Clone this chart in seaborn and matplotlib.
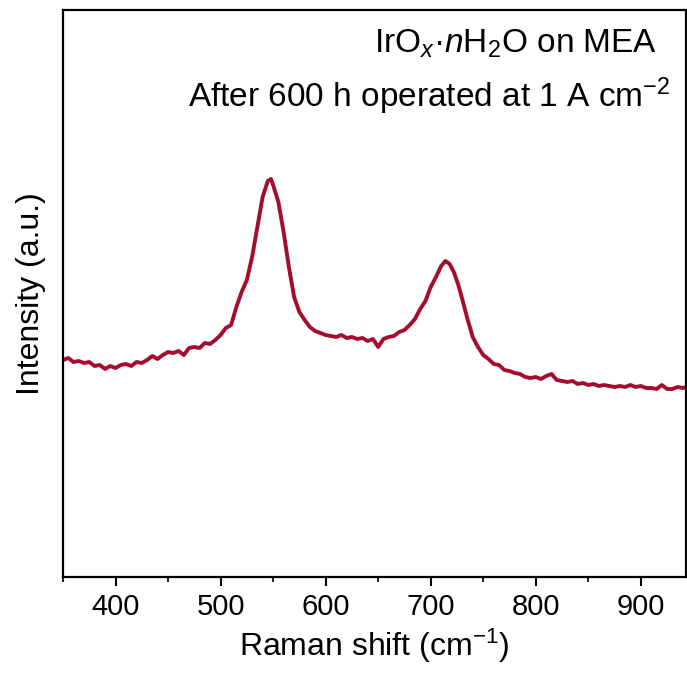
import matplotlib
matplotlib.use("Agg")
import matplotlib.pyplot as plt
import seaborn as sns
import pandas as pd
from matplotlib.ticker import MultipleLocator

sns.set_theme(style="ticks")
plt.rcParams['font.family'] = ['Liberation Sans', 'DejaVu Sans']
plt.rcParams['mathtext.fontset'] = 'custom'
plt.rcParams['mathtext.rm'] = 'Liberation Sans'
plt.rcParams['mathtext.it'] = 'Liberation Sans:italic'

raman_shift = [350, 355, 360, 365, 370, 375, 380, 385, 390, 395, 400, 405, 410, 415, 420,
               425, 430, 435, 440, 445, 450, 455, 460, 465, 470, 475, 480, 485, 490, 495,
               500, 505, 510, 515, 520, 525, 530, 535, 540, 545, 548, 550, 555, 560, 565,
               570, 575, 580, 585, 590, 595, 600, 605, 610, 615, 620, 625, 630, 635, 640,
               645, 650, 655, 660, 665, 670, 675, 680, 685, 690, 695, 700, 705, 710, 714,
               718, 722, 726, 730, 735, 740, 745, 750, 755, 760, 765, 770, 775, 780, 785,
               790, 795, 800, 805, 810, 815, 820, 825, 830, 835, 840, 845, 850, 855, 860,
               865, 870, 875, 880, 885, 890, 895, 900, 905, 910, 915, 920, 925, 930, 935,
               940, 943]
intensity = [217, 219, 215, 216, 214, 215, 211, 212, 208, 211, 209, 212, 213, 211, 215,
             214, 217, 221, 218, 222, 225, 224, 226, 222, 229, 230, 229, 234, 233, 237,
             242, 249, 252, 270, 285, 297, 320, 350, 380, 396, 398, 392, 375, 345, 310,
             280, 265, 257, 250, 246, 244, 242, 241, 240, 242, 239, 240, 238, 239, 236,
             238, 230, 238, 240, 241, 245, 247, 252, 258, 268, 276, 290, 300, 311, 316,
             313, 305, 293, 278, 258, 240, 230, 222, 218, 213, 212, 207, 206, 204, 203,
             200, 199, 200, 198, 201, 203, 197, 196, 195, 196, 193, 194, 192, 193, 191,
             192, 191, 190, 191, 190, 192, 190, 191, 189, 189, 188, 192, 188, 188, 190,
             189, 190]

df = pd.DataFrame({"shift": raman_shift, "intensity": intensity})

fig = plt.figure(figsize=(6.87, 6.88), dpi=100)
ax = fig.add_axes([63/687, 1-577/688, (686-63)/687, (577-10)/688])

sns.lineplot(data=df, x="shift", y="intensity", ax=ax, color='#A50D2F', linewidth=2.8)

ax.set_xlim(350, 943)
ax.set_ylim(0, 567)
ax.set_yticks([])
ax.xaxis.set_major_locator(MultipleLocator(100))
ax.xaxis.set_minor_locator(MultipleLocator(50))
ax.tick_params(axis='x', which='major', direction='out', length=6.5, width=1.5,
               labelsize=21, colors='black', pad=5)
ax.tick_params(axis='x', which='minor', direction='out', length=3.5, width=1.5)
for s in ax.spines.values():
    s.set_linewidth(1.6)
    s.set_color('black')

ax.set_xlabel('Raman shift (cm$^{-1}$)', fontsize=23, labelpad=4, color='black')
ax.set_ylabel('Intensity (a.u.)', fontsize=23, labelpad=12, color='black')

ax.text(0.953, 0.94, r'IrO$_x$·$n$H$_2$O on MEA', transform=ax.transAxes,
        ha='right', va='center', fontsize=24, color='black')
ax.text(0.975, 0.848, r'After 600 h operated at 1 A cm$^{-2}$', transform=ax.transAxes,
        ha='right', va='center', fontsize=24, color='black')

fig.savefig('out.png', dpi=100)
